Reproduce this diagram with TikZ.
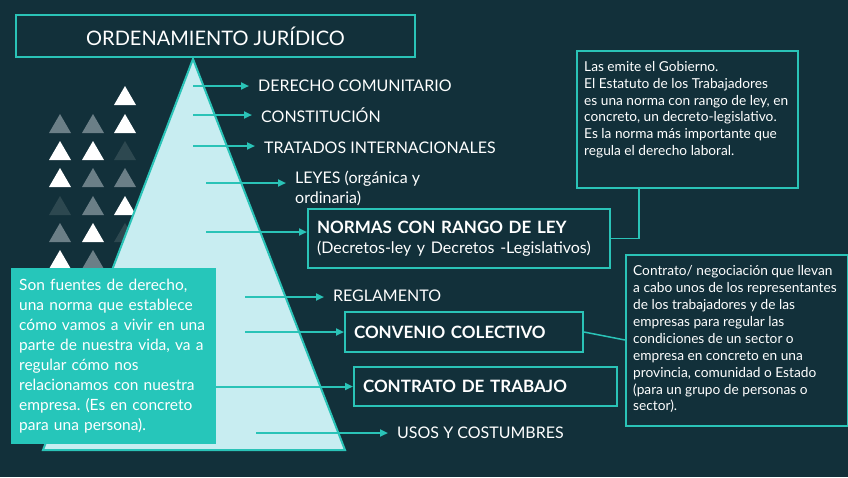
\documentclass[tikz,border=0pt]{standalone}
\usepackage{fontspec}
\setmainfont{Lato}
\usetikzlibrary{arrows.meta, positioning}
\definecolor{bgblue}{HTML}{12303A}
\definecolor{tealc}{HTML}{2AC3B7}
\definecolor{pyrfill}{HTML}{C8EDF1}
\definecolor{tealfill}{HTML}{26C6BA}
\definecolor{midgray}{HTML}{6B7F87}
\definecolor{darkgray}{HTML}{2D4850}
\frenchspacing

\begin{document}
\begin{tikzpicture}[x=1pt, y=-1pt,
    frame/.style={draw=tealc, line width=2pt, inner sep=0pt},
    lbl/.style={anchor=west, inner sep=0pt, text=white, font=\fontsize{16}{20}\selectfont},
    keybox/.style={frame, anchor=west, align=left, inner xsep=9pt, text=white, font=\bfseries\fontsize{17}{20}\selectfont},
    note/.style={anchor=north west, align=left, inner sep=0pt, text=white, font=\fontsize{13.7}{16.9}\selectfont},
    arr/.style={-{Triangle[length=8pt, width=7pt]}, tealc, line width=2pt},
    arrlbl/.style={arr, shorten >=9pt},
    link/.style={tealc, line width=1.5pt}
]
\fill[bgblue] (0,0) rectangle (848,477);
\useasboundingbox (0,0) rectangle (848,477);

\node[frame, minimum width=399pt, minimum height=42pt, text=white, font=\fontsize{20}{24}\selectfont] (title) at (215.5,36) {ORDENAMIENTO JURÍDICO};

\foreach \px/\py/\c in {125/96/white,
    60/124/midgray, 93/124/midgray, 125/124/white,
    60/151/white, 93/151/white, 125/151/darkgray,
    60/178/white, 93/178/midgray, 125/178/midgray,
    60/206/darkgray, 93/206/midgray, 125/206/white,
    60/233/midgray, 93/233/white, 125/233/darkgray,
    60/260/white, 93/260/midgray, 125/260/midgray}
  \fill[\c] (\px-11,\py+9) -- (\px,\py-10) -- (\px+11,\py+9) -- cycle;

\draw[tealc, line width=2pt, fill=pyrfill] (193,59) -- (345,450) -- (43,450) -- cycle;

\node[lbl] (dc) at (258,86) {DERECHO COMUNITARIO};
\node[lbl] (const) at (261,115) {CONSTITUCIÓN};
\node[lbl] (trat) at (264,148) {TRATADOS INTERNACIONALES};
\node[lbl, align=left] (leyes) at (295,188) {LEYES (orgánica y\\ordinaria)};
\node[keybox, text width=284pt, minimum height=59pt] (nr) at (307,238.5) {NORMAS CON RANGO DE LEY\\\mbox{\mdseries\fontsize{16}{20}\selectfont(Decretos-ley y Decretos -Legislativos)}};
\node[lbl] (regl) at (333,296) {REGLAMENTO};
\node[keybox, text width=220pt, minimum height=40pt] (cc) at (344,332) {CONVENIO COLECTIVO};
\node[keybox, text width=245pt, minimum height=39pt] (ct) at (353,386.5) {CONTRATO DE TRABAJO};
\node[lbl] (usos) at (397,433) {USOS Y COSTUMBRES};

\coordinate (s1) at (193,86);
\coordinate (s2) at (193,115);
\coordinate (s3) at (193,146);
\coordinate (s4) at (206,183);
\coordinate (s5) at (206,232);
\coordinate (s6) at (245,297);
\coordinate (s7) at (245,332);
\coordinate (s9) at (256,433);

\draw[arrlbl] (s1) -- (s1 -| dc.west);
\draw[arrlbl] (s2) -- (s2 -| const.west);
\draw[arrlbl] (s3) -- (s3 -| trat.west);
\draw[arrlbl] (s4) -- (s4 -| leyes.west);
\draw[arr] (s5) -- (s5 -| nr.west);
\draw[arrlbl] (s6) -- (s6 -| regl.west);
\draw[arr] (s7) -- (cc.west);
\draw[arrlbl] (s9) -- (s9 -| usos.west);

\node[anchor=north west, fill=tealfill, text=white, align=left, text width=189pt, inner xsep=8pt, inner ysep=0pt, minimum height=176pt, font=\fontsize{15.5}{20}\selectfont] (fuentes) at (11,268) {Son fuentes de derecho,\\una norma que establece\\cómo vamos a vivir en una\\parte de nuestra vida, va a\\regular cómo nos\\relacionamos con nuestra\\empresa. (Es en concreto\\para una persona).};
\draw[arr] (fuentes.east |- ct.west) -- (ct.west);

\node[frame, anchor=north west, minimum width=221pt, minimum height=137pt] (gob) at (576,50) {};
\node[note] (gobtxt) at ([shift={(8,11)}]gob.north west) {Las emite el Gobierno.\\El Estatuto de los Trabajadores\\es una norma con rango de ley, en\\concreto, un decreto-legislativo.\\Es la norma más importante que\\regula el derecho laboral.};
\draw[link] ([xshift=63pt]gob.south west) |- (nr.east);

\node[frame, anchor=north west, minimum width=222pt, minimum height=171pt] (ccinfo) at (625,253.5) {};
\node[note] (cctxt) at ([shift={(8,12)}]ccinfo.north west) {Contrato/ negociación que llevan\\a cabo unos de los representantes\\de los trabajadores y de las\\empresas para regular las\\condiciones de un sector o\\empresa en concreto en una\\provincia, comunidad o Estado\\(para un grupo de personas o\\sector).};
\draw[link] (cc.east) -- (ccinfo.west);
\end{tikzpicture}
\end{document}
